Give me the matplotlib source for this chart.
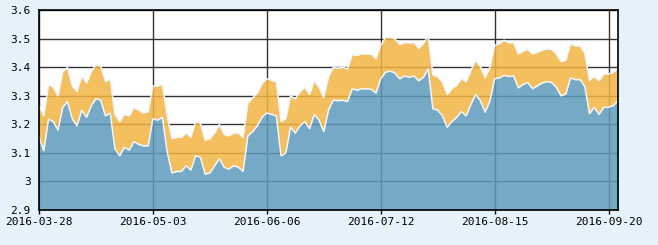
import matplotlib
matplotlib.use("Agg")
import matplotlib.pyplot as plt
import numpy as np

tick_labels = ["2016-03-28", "2016-05-03", "2016-06-06", "2016-07-12", "2016-08-15", "2016-09-20"]
tick_index = [0, 24, 48, 72, 96, 120]

blue = [3.157, 3.108, 3.218, 3.21, 3.18, 3.26, 3.28, 3.22, 3.195, 3.25,
        3.225, 3.265, 3.29, 3.285, 3.23, 3.24, 3.115, 3.09, 3.12, 3.11,
        3.14, 3.13, 3.125, 3.125, 3.22, 3.215, 3.225, 3.105, 3.03, 3.035,
        3.035, 3.055, 3.04, 3.09, 3.085, 3.026, 3.03, 3.055, 3.08, 3.05,
        3.043, 3.055, 3.05, 3.035, 3.16, 3.175, 3.195, 3.225, 3.24, 3.235,
        3.23, 3.09, 3.10, 3.19, 3.17, 3.195, 3.21, 3.185, 3.235, 3.215,
        3.175, 3.25, 3.285, 3.283, 3.285, 3.28, 3.325, 3.32, 3.325, 3.325,
        3.323, 3.31, 3.36, 3.383, 3.387, 3.38, 3.36, 3.37, 3.365, 3.37,
        3.353, 3.365, 3.395, 3.255, 3.25, 3.23, 3.19, 3.21, 3.225, 3.245,
        3.23, 3.27, 3.305, 3.283, 3.243, 3.283, 3.36, 3.363, 3.372, 3.368,
        3.37, 3.328, 3.34, 3.347, 3.325, 3.335, 3.345, 3.35, 3.347, 3.33,
        3.30, 3.307, 3.363, 3.357, 3.357, 3.333, 3.238, 3.26, 3.235, 3.26,
        3.26, 3.266, 3.283]

orange = [3.266, 3.23, 3.34, 3.33, 3.30, 3.385, 3.40, 3.335, 3.315, 3.37,
          3.345, 3.385, 3.41, 3.405, 3.35, 3.36, 3.235, 3.21, 3.235, 3.23,
          3.26, 3.25, 3.24, 3.245, 3.335, 3.335, 3.34, 3.23, 3.15, 3.155,
          3.155, 3.17, 3.155, 3.21, 3.205, 3.145, 3.15, 3.17, 3.20, 3.165,
          3.16, 3.17, 3.17, 3.155, 3.275, 3.293, 3.31, 3.343, 3.36, 3.355,
          3.35, 3.21, 3.22, 3.30, 3.29, 3.315, 3.33, 3.305, 3.353, 3.33,
          3.295, 3.367, 3.40, 3.397, 3.40, 3.395, 3.445, 3.442, 3.447, 3.447,
          3.447, 3.43, 3.477, 3.505, 3.506, 3.50, 3.48, 3.486, 3.486, 3.486,
          3.467, 3.483, 3.512, 3.373, 3.368, 3.348, 3.305, 3.325, 3.337, 3.36,
          3.35, 3.39, 3.425, 3.403, 3.363, 3.40, 3.477, 3.483, 3.495, 3.486,
          3.487, 3.447, 3.457, 3.463, 3.447, 3.453, 3.46, 3.465, 3.463, 3.447,
          3.42, 3.425, 3.483, 3.475, 3.475, 3.45, 3.355, 3.368, 3.353, 3.377,
          3.377, 3.382, 3.397]

y_ticks = [2.9, 3.0, 3.1, 3.2, 3.3, 3.4, 3.5, 3.6]
y_tick_labels = ["2.9", "3", "3.1", "3.2", "3.3", "3.4", "3.5", "3.6"]

x = np.arange(len(blue))

fig = plt.figure(figsize=(6.58, 2.45), dpi=100, facecolor="#E6F2FB")
ax = fig.add_axes([39/658, 1-210/245, (618-39)/658, (210-10.3)/245])
ax.set_facecolor("white")

base = 2.9
ax.fill_between(x, blue, orange, color="#F3B443", alpha=0.85, lw=0, zorder=2)
ax.fill_between(x, base, blue, color="#5E9ABB", alpha=0.85, lw=0, zorder=2)
ax.plot(x, orange, color="#F2F6FA", lw=1.1, zorder=3)
ax.plot(x, blue, color="#F2F6FA", lw=1.1, zorder=3)

ax.set_xlim(0, len(blue) - 1)
ax.set_ylim(2.9, 3.6)
ax.set_yticks(y_ticks)
ax.set_yticklabels(y_tick_labels)
ax.set_xticks(tick_index)
ax.set_xticklabels(tick_labels)

ax.grid(True, color="#333333", lw=1.0, zorder=1)
ax.set_axisbelow(True)
for s in ax.spines.values():
    s.set_color("black")
    s.set_linewidth(1.2)
    s.set_zorder(6)

ax.tick_params(axis="y", length=0, pad=6, labelsize=8)
ax.tick_params(axis="x", length=3, width=1, direction="out", pad=2, labelsize=8)
for lab in ax.get_xticklabels() + ax.get_yticklabels():
    lab.set_fontfamily("DejaVu Sans Mono")

fig.savefig("out.png", dpi=100, facecolor=fig.get_facecolor())
